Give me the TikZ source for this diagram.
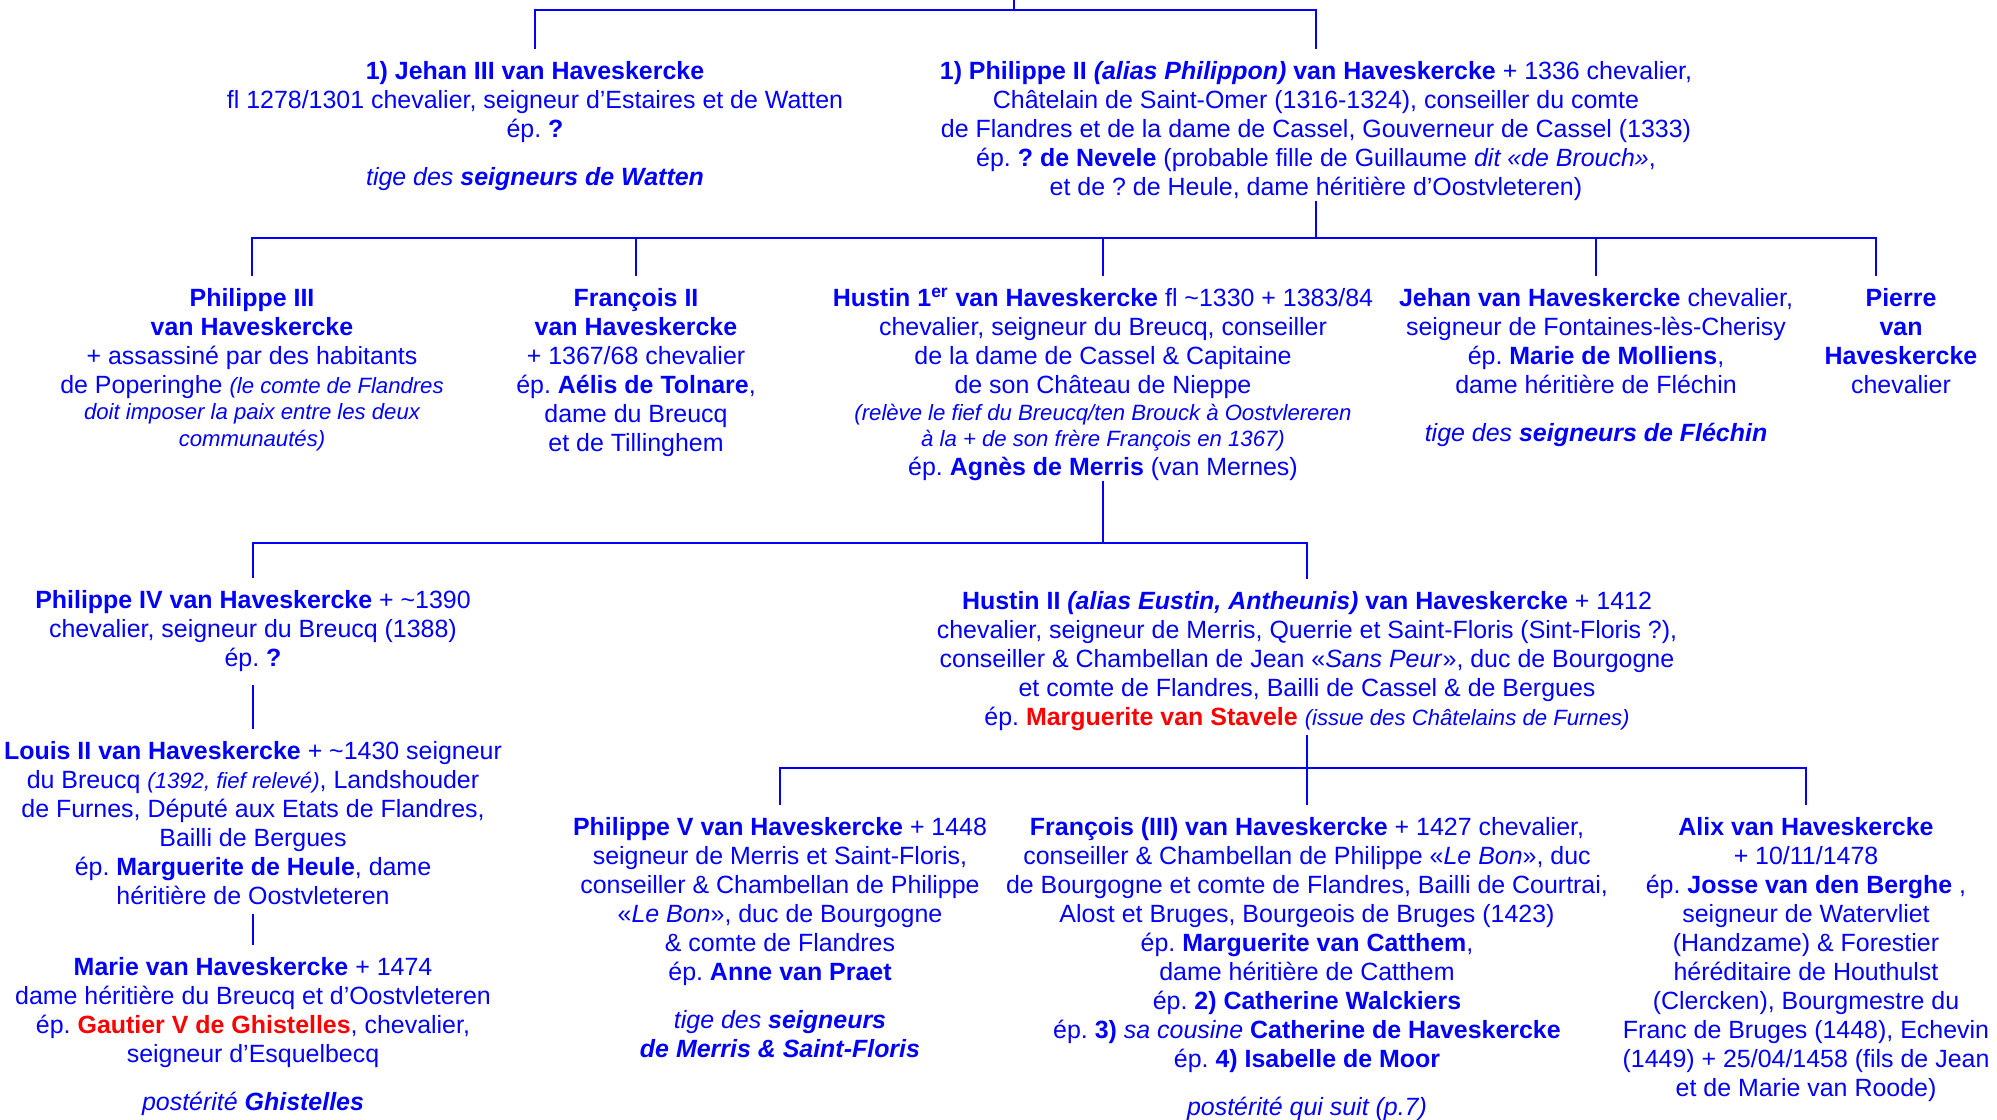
\documentclass[tikz,border=0pt]{standalone}
\usepackage{fontspec}
\setmainfont{Liberation Sans}
\usetikzlibrary{positioning, calc}
\definecolor{genblue}{HTML}{0000FF}
\definecolor{genred}{HTML}{FF0000}
\newcommand{\smallnote}[1]{{\fontsize{12.6pt}{14.8pt}\selectfont\itshape #1}}
\frenchspacing

\begin{document}
\begin{tikzpicture}[x=0.02cm, y=-0.02cm,
  person/.style={text=genblue, align=center, inner sep=0pt, anchor=north,
    font=\fontsize{14.2pt}{16.5pt}\selectfont},
  link/.style={genblue, line width=1.6pt},
  tochild/.style={link, shorten >=0.24cm}]

\useasboundingbox (0,0) rectangle (1997,1119);

% Generation 1
\node[person] (jehan3) at (535,61) {\textbf{1) Jehan III van Haveskercke}\\
  fl 1278/1301 chevalier, seigneur d’Estaires et de Watten\\
  ép. \textbf{?}\\[11pt]
  \textit{tige des \textbf{seigneurs de Watten}}};
\node[person] (philippe2) at (1316,61) {\textbf{1) Philippe II \textit{(alias Philippon)} van Haveskercke} + 1336 chevalier,\\
  Châtelain de Saint-Omer (1316-1324), conseiller du comte\\
  de Flandres et de la dame de Cassel, Gouverneur de Cassel (1333)\\
  ép. \textbf{? de Nevele} (probable fille de Guillaume \textit{dit «de Brouch»},\\
  et de ? de Heule, dame héritière d’Oostvleteren)};

% Generation 2
\node[person] (philippe3) at (252,288) {\textbf{Philippe III}\\
  \textbf{van Haveskercke}\\
  + assassiné par des habitants\\
  de Poperinghe \smallnote{(le comte de Flandres}\\[-1.5pt]
  \smallnote{doit imposer la paix entre les deux}\\[-1.5pt]
  \smallnote{communautés)}};
\node[person] (francois2) at (636,288) {\textbf{François II}\\
  \textbf{van Haveskercke}\\
  + 1367/68 chevalier\\
  ép. \textbf{Aélis de Tolnare},\\
  dame du Breucq\\
  et de Tillinghem};
\node[person] (hustin1) at (1103,288) {\textbf{Hustin 1\textsuperscript{er} van Haveskercke} fl \textasciitilde1330 + 1383/84\\
  chevalier, seigneur du Breucq, conseiller\\
  de la dame de Cassel \& Capitaine\\
  de son Château de Nieppe\\[-1.5pt]
  \smallnote{(relève le fief du Breucq/ten Brouck à Oostvlereren}\\[-1.5pt]
  \smallnote{à la + de son frère François en 1367)}\\
  ép. \textbf{Agnès de Merris} (van Mernes)};
\node[person] (jehan) at (1596,288) {\textbf{Jehan van Haveskercke} chevalier,\\
  seigneur de Fontaines-lès-Cherisy\\
  ép. \textbf{Marie de Molliens},\\
  dame héritière de Fléchin\\[11pt]
  \textit{tige des \textbf{seigneurs de Fléchin}}};
\node[person] (pierre) at (1901,288) {\textbf{Pierre}\\
  \textbf{van}\\
  \textbf{Haveskercke}\\
  chevalier};

% Generation 3
\node[person] (philippe4) at (253,590) {\textbf{Philippe IV van Haveskercke} + \textasciitilde1390\\
  chevalier, seigneur du Breucq (1388)\\
  ép. \textbf{?}};
\node[person] (louis2) at (253,741) {\textbf{Louis II van Haveskercke} + \textasciitilde1430 seigneur\\
  du Breucq \smallnote{(1392, fief relevé)}, Landshouder\\
  de Furnes, Député aux Etats de Flandres,\\
  Bailli de Bergues\\
  ép. \textbf{Marguerite de Heule}, dame\\
  héritière de Oostvleteren};
\node[person] (marie) at (253,957) {\textbf{Marie van Haveskercke} + 1474\\
  dame héritière du Breucq et d’Oostvleteren\\
  ép. \textcolor{genred}{\textbf{Gautier V de Ghistelles}}, chevalier,\\
  seigneur d’Esquelbecq\\[11pt]
  \textit{postérité \textbf{Ghistelles}}};
\node[person] (hustin2) at (1307,591) {\textbf{Hustin II \textit{(alias Eustin, Antheunis)} van Haveskercke} + 1412\\
  chevalier, seigneur de Merris, Querrie et Saint-Floris (Sint-Floris ?),\\
  conseiller \& Chambellan de Jean «\textit{Sans Peur}», duc de Bourgogne\\
  et comte de Flandres, Bailli de Cassel \& de Bergues\\
  ép. \textcolor{genred}{\textbf{Marguerite van Stavele}} \smallnote{(issue des Châtelains de Furnes)}};

% Generation 4
\node[person] (philippe5) at (780,817) {\textbf{Philippe V van Haveskercke} + 1448\\
  seigneur de Merris et Saint-Floris,\\
  conseiller \& Chambellan de Philippe\\
  «\textit{Le Bon}», duc de Bourgogne\\
  \& comte de Flandres\\
  ép. \textbf{Anne van Praet}\\[11pt]
  \textit{tige des \textbf{seigneurs}}\\
  \textit{\textbf{de Merris \& Saint-Floris}}};
\node[person] (francois3) at (1307,817) {\textbf{François (III) van Haveskercke} + 1427 chevalier,\\
  conseiller \& Chambellan de Philippe «\textit{Le Bon}», duc\\
  de Bourgogne et comte de Flandres, Bailli de Courtrai,\\
  Alost et Bruges, Bourgeois de Bruges (1423)\\
  ép. \textbf{Marguerite van Catthem},\\
  dame héritière de Catthem\\
  ép. \textbf{2) Catherine Walckiers}\\
  ép. \textbf{3)} \textit{sa cousine} \textbf{Catherine de Haveskercke}\\
  ép. \textbf{4) Isabelle de Moor}\\[11pt]
  \textit{postérité qui suit (p.7)}};
\node[person] (alix) at (1806,817) {\textbf{Alix van Haveskercke}\\
  + 10/11/1478\\
  ép. \textbf{Josse van den Berghe} ,\\
  seigneur de Watervliet\\
  (Handzame) \& Forestier\\
  héréditaire de Houthulst\\
  (Clercken), Bourgmestre du\\
  Franc de Bruges (1448), Echevin\\
  (1449) + 25/04/1458 (fils de Jean\\
  et de Marie van Roode)};

% Connectors, generation 1
\coordinate (root) at (1014,0);
\coordinate (j0) at (1014,10);
\draw[link] (root) -- (j0);
\draw[link, shorten <=0.24cm, shorten >=0.24cm] (jehan3.north) |- (j0) -| (philippe2.north);

% Connectors, generation 2
\coordinate (j1) at (1316,238);
\draw[link] (philippe2.south) -- (j1);
\draw[link, shorten <=0.24cm, shorten >=0.24cm] (philippe3.north) |- (j1) -| ([xshift=-0.5cm]pierre.north);
\draw[tochild] (francois2.north |- j1) -- (francois2.north);
\draw[tochild] (hustin1.north |- j1) -- (hustin1.north);
\draw[tochild] (jehan.north |- j1) -- (jehan.north);

% Connectors, generation 3
\coordinate (j2) at (1103,543);
\draw[link] (hustin1.south) -- (j2);
\draw[link, shorten <=0.24cm, shorten >=0.24cm] (philippe4.north) |- (j2) -| (hustin2.north);
\draw[link, shorten <=0.26cm, shorten >=0.24cm] (philippe4.south) -- (louis2.north);
\draw[link, shorten <=0.18cm, shorten >=0.24cm] (louis2.south) -- (marie.north);

% Connectors, generation 4
\coordinate (j3) at (1307,768);
\draw[link, shorten <=0.08cm, shorten >=0.24cm] (hustin2.south) -- (francois3.north);
\draw[link, shorten <=0.24cm, shorten >=0.24cm] (philippe5.north) |- (j3) -| (alix.north);

\end{tikzpicture}
\end{document}
